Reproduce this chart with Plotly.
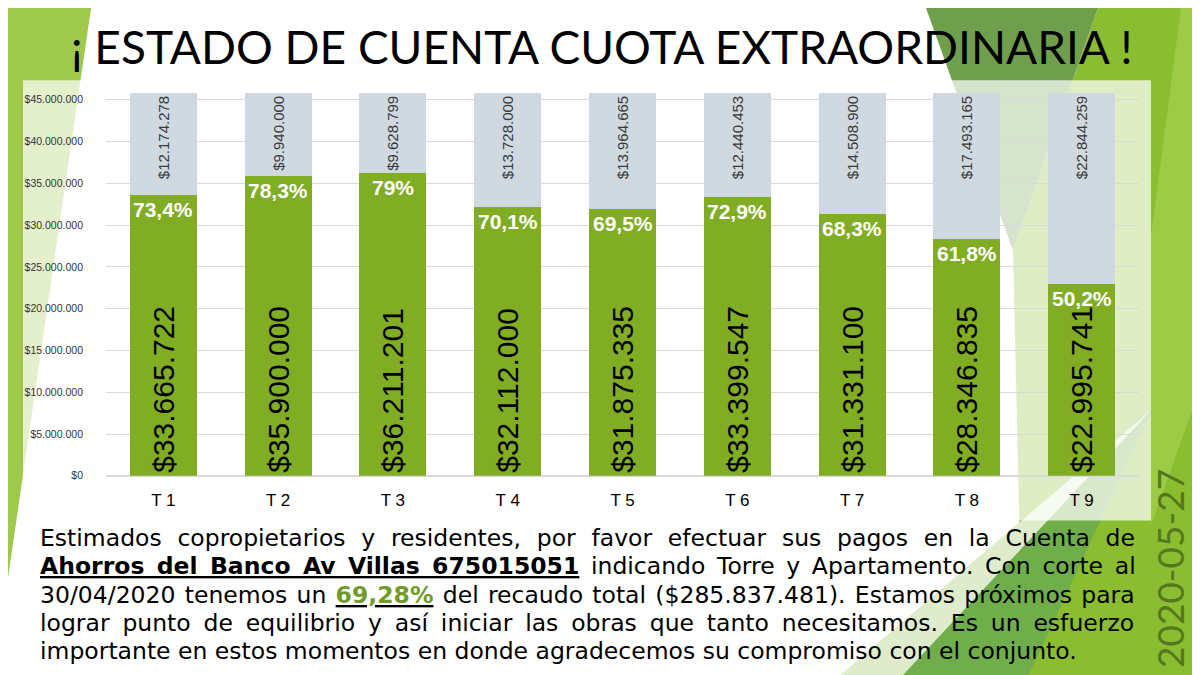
import plotly.graph_objects as go

# datos del estado de cuenta (cuota extraordinaria)
torres = ["T 1", "T 2", "T 3", "T 4", "T 5", "T 6", "T 7", "T 8", "T 9"]
recaudado = [33665722, 35900000, 36211201, 32112000, 31875335, 33399547, 31331100, 28346835, 22995741]
pendiente = [12174278, 9940000, 9628799, 13728000, 13964665, 12440453, 14508900, 17493165, 22844259]
porcentajes = ["73,4%", "78,3%", "79%", "70,1%", "69,5%", "72,9%", "68,3%", "61,8%", "50,2%"]
y_ticks = [0, 5000000, 10000000, 15000000, 20000000, 25000000, 30000000, 35000000, 40000000, 45000000]

titulo = "¡ ESTADO DE CUENTA CUOTA EXTRAORDINARIA !"
parrafo = [
    "Estimados copropietarios y residentes, por favor efectuar sus pagos en la Cuenta de",
    "<b><u>Ahorros del Banco Av Villas 675015051</u></b> indicando Torre y Apartamento. Con corte al",
    "30/04/2020 tenemos un <b><u><span style='color:#6f9b2a'>69,28%</span></u></b> del recaudo total ($285.837.481). Estamos próximos para",
    "lograr punto de equilibrio y así iniciar las obras que tanto necesitamos. Es un esfuerzo",
    "importante en estos momentos en donde agradecemos su compromiso con el conjunto.",
]
# espaciado extra entre palabras para simular el texto justificado
espaciado = [8.3, 4.2, 1.8, 5.4, 0]
fecha = "2020-05-27"

W, H = 1200, 675
GREEN = "#80ad23"
GREY = "#cfd9df"
ARIAL = "Arial, Liberation Sans, sans-serif"


def money(v):
    return "$" + f"{v:,}".replace(",", ".")


def px(x, y):
    return x / W, 1 - y / H


def poly(pts, color, opacity=1.0):
    d = ""
    for i, (x, y) in enumerate(pts):
        a, b = px(x, y)
        d += ("M" if i == 0 else "L") + f"{a:.4f},{b:.4f} "
    return dict(type="path", path=d + "Z", xref="paper", yref="paper", fillcolor=color,
                opacity=opacity, line=dict(width=0), layer="below")


# decoracion (facetas verdes) + recuadro del grafico
shapes = [
    poly([(0, 0), (83, 0), (0, 575)], "#9ec94a"),
    poly([(1090, 0), (1200, 0), (1200, 675), (1015, 675), (1005, 245)], "#8bbd30"),
    poly([(1173, 0), (1200, 0), (1200, 362), (1143, 522), (1143, 230)], "#9dcb45"),
    poly([(918, 0), (1090, 0), (1005, 245)], "#6f9f4c"),
    poly([(830, 675), (893, 675), (1144, 405)], "#dfeccc"),
    poly([(893, 675), (1020, 675), (1144, 405)], "#6fae4a"),
    dict(type="rect", xref="paper", yref="paper", x0=15 / W, x1=1143 / W, y0=1 - 517 / H, y1=1 - 73 / H,
         fillcolor="white", opacity=0.72, line=dict(width=0), layer="below"),
]

fig = go.Figure()
fig.add_trace(go.Bar(x=torres, y=recaudado, marker=dict(color=GREEN, line=dict(width=0)),
                     text=[money(v) for v in recaudado], textposition="inside",
                     insidetextanchor="start", textangle=-90, constraintext="none",
                     insidetextfont=dict(family=ARIAL, size=30, color="black"), hoverinfo="skip"))
fig.add_trace(go.Bar(x=torres, y=pendiente, marker=dict(color=GREY, line=dict(width=0)),
                     text=[money(v) for v in pendiente], textposition="inside",
                     insidetextanchor="end", textangle=-90, constraintext="none",
                     insidetextfont=dict(family=ARIAL, size=15, color="#3a3a3a"), hoverinfo="skip"))

annotations = []
for t, v, p in zip(torres, recaudado, porcentajes):
    annotations.append(dict(x=t, y=v, xref="x", yref="y", text=p, showarrow=False, yanchor="top",
                            yshift=-1, font=dict(family=ARIAL, size=21, color="white", weight="bold")))

annotations.append(dict(x=594 / W, y=1 - 39 / H, xref="paper", yref="paper", text=titulo, showarrow=False,
                        xanchor="center", yanchor="middle", font=dict(family="Lato", size=46, color="black")))

for i, linea in enumerate(parrafo):
    if espaciado[i]:
        linea = f"<span style='word-spacing:{espaciado[i]}px'>{linea}</span>"
    annotations.append(dict(x=30 / W, y=1 - (535 + 28.5 * i) / H, xref="paper", yref="paper", text=linea,
                            showarrow=False, xanchor="left", yanchor="middle",
                            font=dict(family="DejaVu Sans", size=23.5, color="black")))

annotations.append(dict(x=1162 / W, y=1 - 566 / H, xref="paper", yref="paper", text=fecha, showarrow=False,
                        textangle=-90, xanchor="center", yanchor="middle",
                        font=dict(family="Lato", size=37, color="#55781f")))

fig.update_layout(
    width=W, height=H, autosize=False,
    margin=dict(l=0, r=0, t=0, b=0),
    paper_bgcolor="white", plot_bgcolor="rgba(0,0,0,0)",
    barmode="stack", bargap=0.416, showlegend=False,
    shapes=shapes, annotations=annotations,
    xaxis=dict(domain=[98 / W, 1131 / W], showgrid=False, zeroline=False, showline=False,
               ticks="", ticklabelstandoff=12, tickfont=dict(family=ARIAL, size=17, color="black")),
    yaxis=dict(domain=[1 - 472 / H, 1 - 84.2 / H], range=[0, 46000000], tickmode="array",
               tickvals=y_ticks, ticktext=[money(v) for v in y_ticks],
               showgrid=True, gridcolor="#d9d9d9", gridwidth=1,
               zeroline=True, zerolinecolor="#d9d9d9", showline=False, ticks="",
               ticklabelstandoff=22, tickfont=dict(family=ARIAL, size=10.5, color="#333333")),
)

fig.write_html("out.html")
